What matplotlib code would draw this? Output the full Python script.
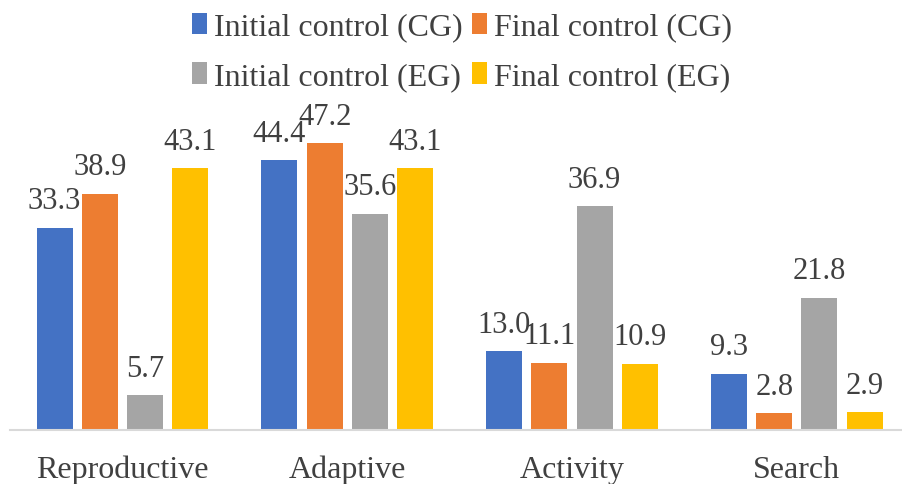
import matplotlib
matplotlib.use("Agg")
import matplotlib.pyplot as plt
import numpy as np

categories = ["Reproductive", "Adaptive", "Activity", "Search"]
series_names = ["Initial control (CG)", "Final control (CG)",
                "Initial control (EG)", "Final control (EG)"]
initial_cg = [33.3, 44.4, 13.0, 9.3]
final_cg = [38.9, 47.2, 11.1, 2.8]
initial_eg = [5.7, 35.6, 36.9, 21.8]
final_eg = [43.1, 43.1, 10.9, 2.9]
colors = ["#4472C4", "#ED7D31", "#A5A5A5", "#FFC000"]

plt.rcParams["font.family"] = ["Liberation Serif", "DejaVu Serif"]
text_color = "#404040"

fig = plt.figure(figsize=(9.02, 4.85), dpi=100)
ax = fig.add_axes([10 / 902, 54 / 485, 892 / 902, 303.5 / 485])

x = np.arange(len(categories))
width = 0.16
pitch = 0.201
all_series = [initial_cg, final_cg, initial_eg, final_eg]
handles = []
for i, (vals, name, col) in enumerate(zip(all_series, series_names, colors)):
    offset = (i - 1.5) * pitch
    bars = ax.bar(x + offset, vals, width, color=col, label=name, zorder=2)
    handles.append(bars)
    ax.bar_label(bars, labels=[f"{v:.1f}" for v in vals], padding=9,
                 fontsize=22, color=text_color, clip_on=False)

ax.set_xlim(-0.5, 3.468)
ax.set_ylim(0, 50)
ax.set_xticks(x)
ax.set_xticklabels(categories, fontsize=23, color=text_color)
ax.tick_params(axis="x", length=0, pad=18)
ax.set_yticks([])
for side in ["top", "right", "left"]:
    ax.spines[side].set_visible(False)
ax.spines["bottom"].set_color("#D9D9D9")
ax.spines["bottom"].set_linewidth(1.5)

# legend fills column-wise; order so rows read CG pair, then EG pair
order = [0, 2, 1, 3]
leg = fig.legend([handles[k] for k in order], [series_names[k] for k in order],
                 loc="center", bbox_to_anchor=(462 / 902, 1 - 53 / 485),
                 ncol=2, frameon=False, fontsize=23,
                 handlelength=0.47, handleheight=0.66, handletextpad=0.22,
                 columnspacing=0.3, labelspacing=0.65, borderpad=0)
for t in leg.get_texts():
    t.set_color(text_color)

fig.savefig("out.png", dpi=100)
